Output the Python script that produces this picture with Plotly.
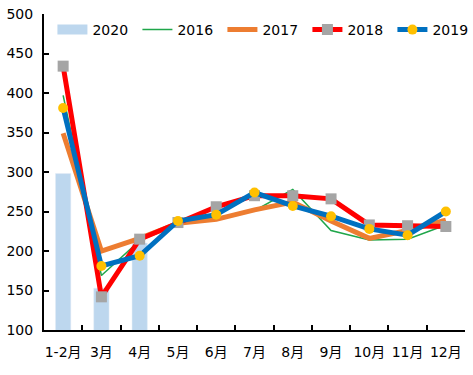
import plotly.graph_objects as go

categories = ["1-2月", "3月", "4月", "5月", "6月", "7月", "8月", "9月", "10月", "11月", "12月"]
v2020 = [298, 153, 210]
v2016 = [397, 169, 213, 236, 242, 251, 278, 226, 214, 215, 233]
v2017 = [349, 200, 216, 235, 240, 252, 262, 238, 216, 226, 239]
v2018 = [434, 142, 215, 236, 256, 270, 270, 266, 233, 232, 231]
v2019 = [381, 181, 194, 238, 246, 274, 257, 244, 228, 220, 250]

font = dict(family="DejaVu Sans, Noto Sans CJK SC", size=14, color="#000000")
bar_color = "#BDD7EE"

fig = go.Figure()
fig.add_trace(go.Bar(x=categories[:3], y=v2020, name="2020", marker_color=bar_color,
                     width=0.4, showlegend=False))
# legend swatch for the 2020 bars (wide rectangle like the original)
fig.add_trace(go.Scatter(x=[None], y=[None], name="2020", mode="lines",
                         line=dict(color=bar_color, width=10), legendrank=1))
fig.add_trace(go.Scatter(x=categories, y=v2016, name="2016", mode="lines",
                         line=dict(color="#1FA64A", width=1.5), legendrank=2))
fig.add_trace(go.Scatter(x=categories, y=v2017, name="2017", mode="lines",
                         line=dict(color="#ED7D31", width=5), legendrank=3))
fig.add_trace(go.Scatter(x=categories, y=v2018, name="2018", mode="lines+markers",
                         line=dict(color="#FF0000", width=5),
                         marker=dict(symbol="square", size=11, color="#A5A5A5"),
                         legendrank=4))
fig.add_trace(go.Scatter(x=categories, y=v2019, name="2019", mode="lines+markers",
                         line=dict(color="#0070C0", width=5),
                         marker=dict(symbol="circle", size=10, color="#FFC000"),
                         legendrank=5))

fig.update_layout(
    width=473, height=375,
    margin=dict(l=44, r=8, t=14, b=45, autoexpand=False),
    paper_bgcolor="white", plot_bgcolor="white",
    font=font,
    showlegend=True,
    legend=dict(orientation="h", x=0.02, y=1.0, xanchor="left", yanchor="top",
                bgcolor="rgba(255,255,255,0)", font=font,
                entrywidth=40, entrywidthmode="pixels", itemwidth=30,
                tracegroupgap=0),
    bargap=0.6,
)
fig.update_xaxes(type="category", range=[-0.5, 10.5], showline=True, linecolor="black",
                 linewidth=2, ticks="inside", ticklen=5, tickwidth=2, tickcolor="black",
                 tickson="boundaries", showgrid=False, ticklabelstandoff=8,
                 tickangle=0, automargin=False)
fig.update_yaxes(range=[100, 500], dtick=50, showline=True, linecolor="black",
                 linewidth=2, ticks="inside", ticklen=5, tickwidth=2, tickcolor="black",
                 showgrid=False, zeroline=False, ticklabelstandoff=6, automargin=False)

fig.write_html("out.html", config={"displayModeBar": False},
               post_script="document.body.style.margin='0';document.body.style.overflow='hidden';")
